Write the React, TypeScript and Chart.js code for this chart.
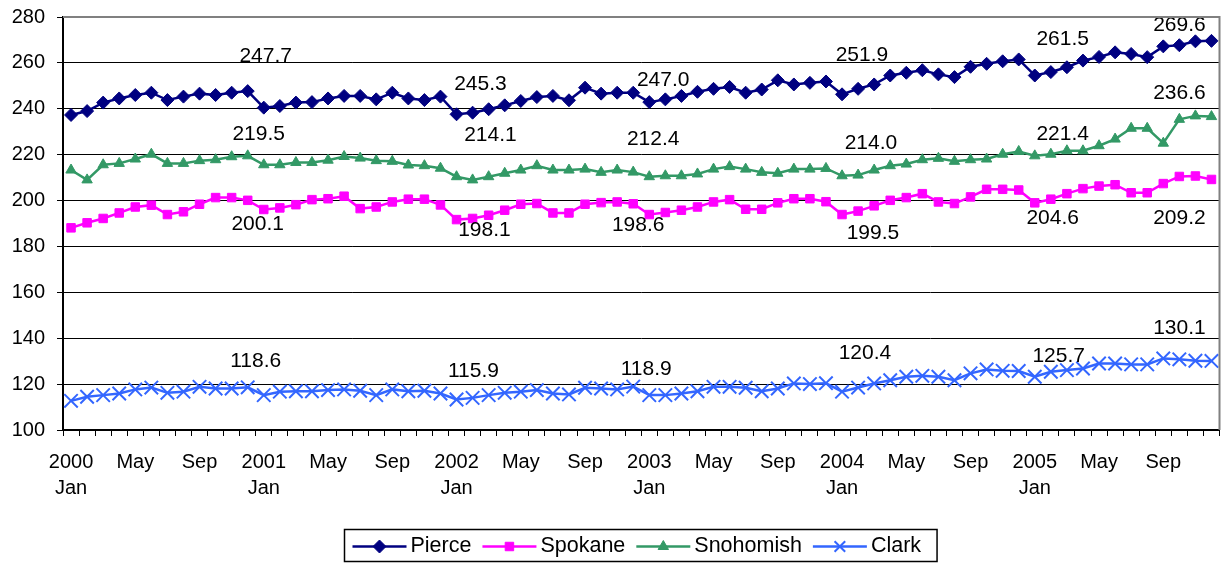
import React, { useEffect, useRef } from 'react';
import { Chart, registerables } from 'chart.js';
import { drawPoint } from 'chart.js/helpers';

Chart.register(...registerables);

const YEARS = ['2000', '2001', '2002', '2003', '2004', '2005'];
const MONTH_TICKS = ['Jan', '', '', '', 'May', '', '', '', 'Sep', '', '', ''];

const PIERCE = [
  237.3, 239.0, 242.7, 244.5, 246.0, 247.0, 243.8, 245.3, 246.6, 246.0, 247.0, 247.7,
  240.5, 241.2, 242.7, 242.9, 244.5, 245.6, 245.6, 244.1, 247.0, 244.5, 243.8, 245.3,
  237.6, 238.3, 239.8, 241.5, 243.4, 245.1, 245.6, 243.7, 249.2, 246.6, 247.0, 247.0,
  242.9, 244.1, 245.6, 247.4, 248.7, 249.5, 247.0, 248.4, 252.4, 250.6, 251.3, 251.9,
  246.3, 248.7, 250.6, 254.5, 255.7, 256.8, 255.0, 253.8, 258.3, 259.6, 260.7, 261.5,
  254.5, 256.0, 258.1, 261.0, 262.6, 264.6, 263.9, 262.5, 267.2, 267.7, 269.4, 269.6,
];

const SPOKANE = [
  188.1, 190.3, 192.2, 194.6, 197.2, 198.0, 193.9, 195.1, 198.4, 201.3, 201.3, 200.1,
  196.1, 196.8, 198.2, 200.4, 200.8, 201.9, 196.5, 197.2, 199.4, 200.6, 200.6, 198.1,
  191.7, 192.2, 193.6, 195.8, 198.4, 198.7, 194.6, 194.6, 198.4, 199.1, 199.4, 198.6,
  193.9, 194.8, 195.8, 197.2, 199.4, 200.4, 196.2, 196.2, 199.0, 200.8, 200.8, 199.5,
  193.9, 195.4, 197.7, 200.1, 201.3, 203.0, 199.4, 198.7, 201.6, 204.9, 204.9, 204.6,
  199.0, 200.6, 203.0, 205.2, 206.3, 206.9, 203.4, 203.4, 207.4, 210.5, 210.7, 209.2,
];

const SNOHOMISH = [
  213.3, 209.0, 215.6, 216.2, 218.1, 220.2, 216.2, 216.2, 217.4, 217.8, 219.1, 219.5,
  215.6, 215.6, 216.6, 216.6, 217.6, 219.2, 218.5, 217.4, 217.1, 215.5, 215.2, 214.1,
  210.4, 209.0, 210.4, 211.9, 213.3, 215.2, 213.3, 213.3, 213.7, 212.3, 213.3, 212.4,
  210.4, 210.8, 210.8, 211.6, 213.7, 214.8, 213.7, 212.3, 211.9, 213.7, 213.7, 214.0,
  210.8, 211.1, 213.3, 215.2, 215.9, 217.8, 218.4, 217.1, 217.8, 218.1, 220.2, 221.4,
  219.5, 220.2, 221.7, 221.7, 223.9, 226.8, 231.5, 231.5, 225.0, 235.4, 236.9, 236.6,
];

const CLARK = [
  112.7, 114.5, 115.2, 115.9, 117.7, 118.5, 116.2, 116.7, 118.8, 118.1, 118.1, 118.6,
  115.2, 116.7, 116.9, 116.9, 117.4, 117.7, 117.1, 115.2, 117.7, 116.9, 117.1, 115.9,
  113.3, 114.0, 115.2, 116.2, 116.7, 117.4, 115.9, 115.5, 118.4, 118.1, 117.7, 118.9,
  115.2, 115.2, 115.9, 116.9, 118.8, 118.8, 118.4, 116.9, 118.1, 120.3, 120.0, 120.4,
  116.7, 118.5, 120.3, 121.7, 123.2, 123.6, 123.2, 121.7, 124.7, 126.4, 125.8, 125.7,
  123.2, 125.4, 126.1, 126.8, 129.0, 129.0, 128.6, 128.6, 131.2, 130.8, 130.2, 130.1,
];

// December points that carry a value label
const LABEL_INDEX = [11, 23, 35, 47, 59, 71];

// pixel offsets of each value label from its point
const PIERCE_LABEL_OFFSETS = [[18, -35], [40, -12], [30, -13], [36, -26], [44, -20], [-32, -16]];
const SPOKANE_LABEL_OFFSETS = [[10, 24], [44, 25], [5, 21], [47, 32], [34, 28], [-32, 39]];
const SNOHOMISH_LABEL_OFFSETS = [[11, -22], [50, -33], [20, -33], [45, -25], [44, -17], [-32, -23]];
const CLARK_LABEL_OFFSETS = [[8, -26], [33, -22], [13, -17], [39, -30], [40, -15], [-32, -33]];

const FONT = '"Liberation Sans", Arial, sans-serif';

const labelPlugin = {
  id: 'valueLabels',
  afterDatasetsDraw(chart: any) {
    const ctx = chart.ctx;
    ctx.save();
    ctx.font = `21px ${FONT}`;
    ctx.fillStyle = '#000';
    ctx.textAlign = 'center';
    ctx.textBaseline = 'middle';
    chart.data.datasets.forEach((ds: any, di: number) => {
      const meta = chart.getDatasetMeta(di);
      LABEL_INDEX.forEach((idx, k) => {
        const pt = meta.data[idx];
        if (!pt) return;
        const off = ds.labelOffsets[k];
        ctx.fillText(Number(ds.data[idx]).toFixed(1), pt.x + off[0], pt.y + off[1]);
      });
    });
    ctx.restore();
  },
};

const frameLegendPlugin = {
  id: 'frameLegend',
  afterDraw(chart: any) {
    const ctx = chart.ctx;
    const a = chart.chartArea;
    ctx.save();
    // gray frame on top and right
    ctx.strokeStyle = '#808080';
    ctx.lineWidth = 2;
    ctx.beginPath();
    ctx.moveTo(a.left, a.top);
    ctx.lineTo(a.right, a.top);
    ctx.lineTo(a.right, a.bottom);
    ctx.stroke();

    // legend
    ctx.font = `21.5px ${FONT}`;
    const lineLen = 54;
    const gapText = 4;
    const gapItem = 11;
    const items = chart.data.datasets.map((ds: any) => ({
      ds,
      tw: ctx.measureText(ds.label).width,
    }));
    let content = 0;
    items.forEach((it: any, i: number) => {
      content += lineLen + gapText + it.tw + (i < items.length - 1 ? gapItem : 0);
    });
    const padL = 8;
    const padR = 16;
    const boxW = content + padL + padR;
    const boxH = 32;
    const cx = (a.left + a.right) / 2 - 1;
    const boxX = Math.round(cx - boxW / 2) + 0.5;
    const boxY = chart.height - boxH - 1.5;
    ctx.strokeStyle = '#000';
    ctx.lineWidth = 1.5;
    ctx.strokeRect(boxX, boxY, boxW, boxH);
    const my = boxY + boxH / 2 + 1;
    let x = boxX + padL;
    items.forEach((it: any) => {
      const ds = it.ds;
      ctx.strokeStyle = ds.borderColor;
      ctx.lineWidth = ds.borderWidth;
      ctx.beginPath();
      ctx.moveTo(x, my);
      ctx.lineTo(x + lineLen, my);
      ctx.stroke();
      ctx.fillStyle = ds.pointBackgroundColor;
      ctx.strokeStyle = ds.pointBorderColor;
      ctx.lineWidth = ds.pointBorderWidth;
      drawPoint(ctx, {
        pointStyle: ds.pointStyle,
        radius: Math.min(ds.pointRadius, 7.5),
        rotation: 0,
        borderWidth: ds.pointBorderWidth,
      } as any, x + lineLen / 2, my);
      ctx.fillStyle = '#000';
      ctx.textAlign = 'left';
      ctx.textBaseline = 'middle';
      ctx.fillText(ds.label, x + lineLen + gapText, my);
      x += lineLen + gapText + it.tw + gapItem;
    });
    ctx.restore();
  },
};

export default function App() {
  const ref = useRef<HTMLCanvasElement | null>(null);

  useEffect(() => {
    document.body.style.margin = '0';
    const labels: any[] = YEARS.flatMap((y) =>
      MONTH_TICKS.map((m, i) => (i === 0 ? [y, m] : m))
    );
    const mk = (label: string, data: number[], color: string, style: string, radius: number, pbw: number, offs: number[][]) => ({
      label,
      data,
      borderColor: color,
      backgroundColor: color,
      pointBackgroundColor: color,
      pointBorderColor: color,
      pointStyle: style,
      pointRadius: radius,
      pointBorderWidth: pbw,
      pointHoverRadius: radius,
      borderWidth: 2.5,
      tension: 0,
      fill: false,
      labelOffsets: offs,
    });
    const chart = new Chart(ref.current as HTMLCanvasElement, {
      type: 'line',
      data: {
        labels,
        datasets: [
          mk('Pierce', PIERCE, '#000080', 'rectRot', 6.5, 1, PIERCE_LABEL_OFFSETS),
          mk('Spokane', SPOKANE, '#FF00FF', 'rect', 6, 1, SPOKANE_LABEL_OFFSETS),
          mk('Snohomish', SNOHOMISH, '#339966', 'triangle', 6, 1, SNOHOMISH_LABEL_OFFSETS),
          mk('Clark', CLARK, '#3366FF', 'crossRot', 9.5, 2, CLARK_LABEL_OFFSETS),
        ] as any,
      },
      options: {
        responsive: false,
        animation: false,
        devicePixelRatio: 1,
        layout: { padding: { top: 17, right: 3, bottom: 53, left: 0 } },
        plugins: {
          legend: { display: false },
          tooltip: { enabled: false },
        },
        scales: {
          x: {
            type: 'category',
            offset: true,
            afterFit: (s: any) => { s.height = 80; },
            grid: {
              display: true,
              drawOnChartArea: false,
              drawTicks: true,
              tickLength: 6,
              offset: true,
              color: '#000',
              lineWidth: 1,
            },
            border: { display: true, color: '#000', width: 2 },
            ticks: {
              autoSkip: false,
              maxRotation: 0,
              minRotation: 0,
              padding: 13,
              color: '#000',
              font: { family: FONT, size: 20, lineHeight: 1.32 },
            },
          },
          y: {
            min: 100,
            max: 280,
            afterFit: (s: any) => {
              s.width = 63;
              s.paddingTop = 0;
              s.paddingBottom = 0;
            },
            grid: {
              color: '#000',
              lineWidth: 1,
              drawTicks: true,
              tickLength: 6,
            },
            border: { display: true, color: '#000', width: 2 },
            ticks: {
              stepSize: 20,
              padding: 12,
              color: '#000',
              font: { family: FONT, size: 20 },
            },
          },
        },
      },
      plugins: [labelPlugin, frameLegendPlugin],
    } as any);
    return () => chart.destroy();
  }, []);

  return (
    <div style={{ width: 1231, height: 563, background: '#fff' }}>
      <canvas ref={ref} width={1231} height={563} style={{ display: 'block' }} />
    </div>
  );
}
